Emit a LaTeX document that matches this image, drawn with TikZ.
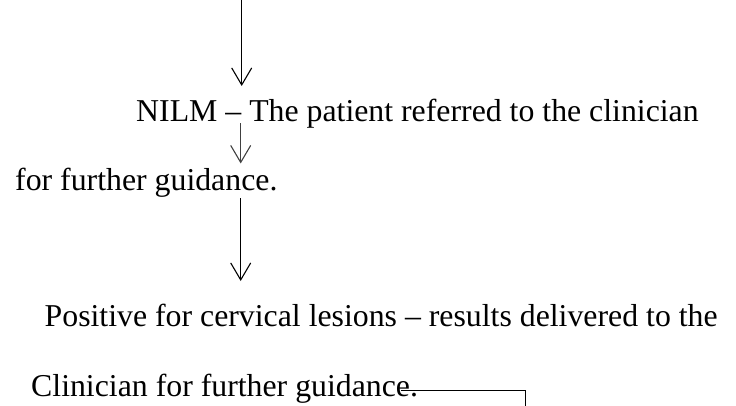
\documentclass[tikz,border=0pt]{standalone}
\usepackage{fontspec}
\setmainfont{Liberation Serif}
\usetikzlibrary{arrows.meta}
\begin{document}
\begin{tikzpicture}[x=1pt,y=-1pt,
  txt/.style={anchor=base west,inner sep=0pt,font=\fontsize{31.8pt}{38pt}\selectfont},
  arr/.style={line width=1.1pt,-{Straight Barb[length=17pt,width=20pt,line width=1.1pt]}},
  plain/.style={line width=1pt}]
\useasboundingbox (0,0) rectangle (736,406);
\coordinate (a1s) at (241.7,0);
\coordinate (a1e) at (241.7,86);
\coordinate (a2s) at (240.7,123.5);
\coordinate (a2e) at (240.7,163.5);
\coordinate (a3s) at (240.7,198.5);
\coordinate (a3e) at (240.7,281);
\coordinate (c1) at (401,390);
\coordinate (c2) at (525.5,390);
\coordinate (c3) at (525.5,410);
\node[txt] (t1) at (136,122) {NILM – The patient referred to the clinician};
\node[txt] (t2) at (15,191) {for further guidance.};
\node[txt] (t3) at (44.5,326.5) {Positive for cervical lesions – results delivered to the};
\node[txt] (t4) at (31,396.5) {Clinician for further guidance.};
\draw[arr] (a1s) -- (a1e);
\draw[arr,black!75] (a2s) -- (a2e);
\draw[arr] (a3s) -- (a3e);
\draw[plain] (c1) -- (c2) -- (c3);
\end{tikzpicture}
\end{document}
